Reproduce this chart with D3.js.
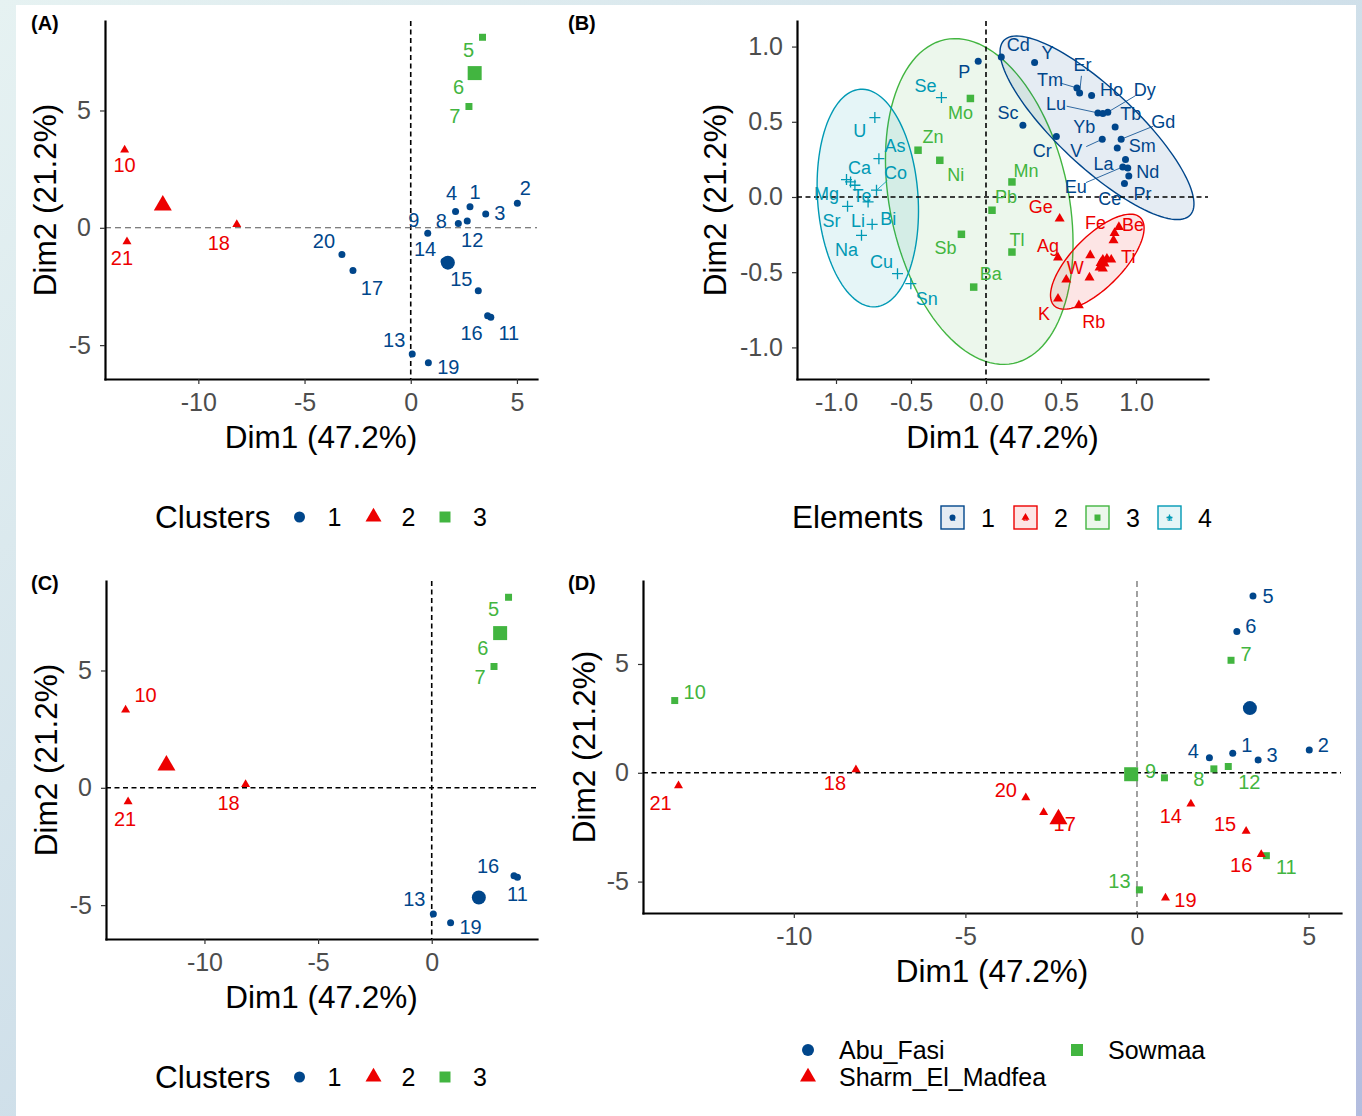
<!DOCTYPE html>
<html>
<head>
<meta charset="utf-8">
<script src="https://cdn.jsdelivr.net/npm/d3@7"></script>
<style>
  body { margin: 0; background: #fff; }
  svg { display: block; }
  text { font-family: "Liberation Sans", Arial, Helvetica, sans-serif; }
</style>
</head>
<body>
<svg id="fig" width="1362" height="1116"></svg>
<script>
// ---- Sample scores on the first two principal components ----
const sampleIds = [1, 2, 3, 4, 5, 6, 7, 8, 9, 10, 11, 12, 13, 14, 15, 16, 17, 18, 19, 20, 21];
const dim1 = [2.79, 5.02, 3.53, 2.11, 3.38, 2.91, 2.74, 2.24, 0.80, -13.47, 3.77, 2.66, 0.07, 1.57, 3.18, 3.62, -2.72, -8.19, 0.83, -3.24, -13.36];
const dim2 = [0.90, 1.05, 0.59, 0.69, 8.12, 6.49, 5.17, 0.18, -0.23, 3.32, -3.81, 0.29, -5.38, -1.43, -2.68, -3.75, -1.82, 0.14, -5.75, -1.14, -0.59];
// k-means cluster of each sample
const sampleCluster = [1, 1, 1, 1, 3, 3, 3, 1, 1, 2, 1, 1, 1, 1, 1, 1, 1, 2, 1, 1, 2];
// sampling site of each sample
const sampleSite = ["Abu_Fasi", "Abu_Fasi", "Abu_Fasi", "Abu_Fasi", "Abu_Fasi", "Abu_Fasi",
  "Sowmaa", "Sowmaa", "Sowmaa", "Sowmaa", "Sowmaa", "Sowmaa", "Sowmaa",
  "Sharm_El_Madfea", "Sharm_El_Madfea", "Sharm_El_Madfea", "Sharm_El_Madfea",
  "Sharm_El_Madfea", "Sharm_El_Madfea", "Sharm_El_Madfea", "Sharm_El_Madfea"];
// samples kept in the reduced clustering
const subsetIds = [5, 6, 7, 10, 11, 13, 16, 18, 19, 21];
const clusterLevels = [1, 2, 3];
const siteLevels = ["Abu_Fasi", "Sharm_El_Madfea", "Sowmaa"];

// ---- Variable coordinates (correlation circle) ----
const elementNames = [
  "P", "Cd", "Y", "Tm", "Er", "Ho", "Lu", "Tb", "Dy", "Sc", "Yb", "Cr", "V", "Gd", "Sm", "La", "Eu", "Ce", "Nd", "Pr",
  "Ge", "Be", "Fe", null, "Ag", null, "Ti", null, null, null, null, null, null, "W", null, "K", "Rb",
  "Mo", "Zn", "Ni", "Mn", "Pb", "Sb", "Tl", "Ba",
  "Se", "U", "As", "Co", "Mg", "Ca", "Te", "Li", "Sr", "Bi", "Na", "Cu", "Sn"];
const elemDim1 = [
  -0.052, 0.102, 0.324, 0.606, 0.624, 0.704, 0.746, 0.779, 0.812, 0.246, 0.861, 0.469, 0.775, 0.901, 0.875, 0.930, 0.912, 0.945, 0.952, 0.923,
  0.491, 0.886, 0.857, 0.850, 0.480, 0.695, 0.835, 0.806, 0.779, 0.764, 0.790, 0.757, 0.779, 0.535, 0.690, 0.480, 0.619,
  -0.104, -0.453, -0.308, 0.173, 0.040, -0.164, 0.173, -0.082,
  -0.297, -0.741, -0.714, -0.730, -0.930, -0.903, -0.874, -0.786, -0.923, -0.759, -0.830, -0.590, -0.501];
const elemDim2 = [
  0.903, 0.931, 0.894, 0.725, 0.692, 0.675, 0.559, 0.555, 0.564, 0.477, 0.466, 0.402, 0.384, 0.384, 0.326, 0.249, 0.200, 0.193, 0.140, 0.089,
  -0.144, -0.200, -0.240, -0.288, -0.403, -0.388, -0.417, -0.410, -0.417, -0.439, -0.443, -0.470, -0.476, -0.550, -0.536, -0.676, -0.720,
  0.655, 0.311, 0.244, 0.100, -0.088, -0.248, -0.366, -0.599,
  0.661, 0.528, 0.255, 0.045, 0.116, 0.100, 0.078, -0.033, -0.062, -0.182, -0.255, -0.510, -0.576];
const elemGroup = [
  1, 1, 1, 1, 1, 1, 1, 1, 1, 1, 1, 1, 1, 1, 1, 1, 1, 1, 1, 1,
  2, 2, 2, 2, 2, 2, 2, 2, 2, 2, 2, 2, 2, 2, 2, 2, 2,
  3, 3, 3, 3, 3, 3, 3, 3,
  4, 4, 4, 4, 4, 4, 4, 4, 4, 4, 4, 4, 4];
const elementLevels = [1, 2, 3, 4];

// 95% concentration ellipses of the element groups (centre, semi-axes, rotation in degrees)
const ellipseGroup = [3, 4, 1, 2];
const ellipseCx = [-0.045, -0.788, 0.74, 0.742];
const ellipseCy = [-0.03, -0.007, 0.46, -0.43];
const ellipseRa = [1.10, 0.725, 0.85, 0.41];
const ellipseRb = [0.595, 0.335, 0.26, 0.17];
const ellipseRot = [102, 94, -43, 45.5];

// ---- Layout and styles ----
const colors = { 1: "#00468B", 2: "#ED0000", 3: "#42B540", 4: "#0099B4" };
const siteColor = { "Abu_Fasi": colors[1], "Sharm_El_Madfea": colors[2], "Sowmaa": colors[3] };
const shapes = { 1: "circle", 2: "triangle", 3: "square", 4: "cross" };
const siteShape = { "Abu_Fasi": "circle", "Sharm_El_Madfea": "triangle", "Sowmaa": "square" };

// label placement (pixel offset of the label centre from its point)
const labelNudgeA = { 1: [5, -15], 2: [8, -15], 3: [14, -1], 4: [-4, -19], 5: [-14, 13], 6: [-14, 11], 7: [-14, 10],
  8: [-17, -3], 9: [-14, -13], 10: [0, 15], 11: [18, 16], 12: [5, 19], 13: [-18, -14], 14: [-19, -12],
  15: [-17, -12], 16: [-16, 17], 17: [19, 17], 18: [-18, 18], 19: [20, 4], 20: [-18, -14], 21: [-5, 16] };
const labelNudgeC = { 5: [-15, 12], 6: [-15, 12], 7: [-14, 11], 10: [20, -15], 11: [0, 17], 13: [-19, -15],
  16: [-26, -10], 18: [-17, 18], 19: [20, 4], 21: [-3, 17] };
const labelNudgeD = { 1: [14, -8], 2: [14, -5], 3: [14, -5], 4: [-16, -7], 5: [15, 0], 6: [14, -6], 7: [15, -6],
  8: [-15, 10], 9: [-14, -7], 10: [20, -9], 11: [20, 11], 12: [21, 16], 13: [-20, -9], 14: [-20, 12],
  15: [-21, -7], 16: [-20, 11], 17: [21, 12], 18: [-21, 13], 19: [20, 2], 20: [-20, -8], 21: [-18, 17] };
const labelNudgeB = {
  P: [-14, 11], Cd: [17, -12], Y: [13, -10], Er: [3, -28, 1], Tm: [-27, -8, 1], Ho: [20, -5], Dy: [37, -22, 1],
  Lu: [-42, -9, 1], Tb: [28, 0], Sc: [-15, -12], Yb: [-31, 0], Gd: [42, -17, 1], Cr: [-14, 14], V: [-26, 12, 1],
  Sm: [25, -2], La: [-22, 4], Nd: [19, -4], Eu: [-47, 20, 1], Ce: [-18, 31], Pr: [18, 10],
  Ge: [-19, -12], Fe: [-19, -10], Be: [14, -2], Ag: [-10, -12], Ti: [17, -3], W: [9, -12], K: [-14, 15], Rb: [15, 17],
  Mo: [-10, 15], Zn: [15, -13], Ni: [16, 15], Mn: [14, -11], Pb: [14, -13], Sb: [-16, 14], Tl: [5, -12], Ba: [17, -13],
  Se: [-16, -12], U: [-15, 13], As: [16, -13], Ca: [9, -14], Co: [19, -17, 1], Mg: [-20, 14], Te: [7, 11],
  Sr: [-16, 15], Li: [-10, 19], Bi: [16, -5], Na: [-15, 15], Cu: [-16, -12], Sn: [16, 15] };

const TITLE_SIZE = "31.5px";
const svg = d3.select("#fig");

// ---- page frame ----
const defs = svg.append("defs");
const grad = defs.append("linearGradient").attr("id", "frame")
  .attr("x1", "0%").attr("y1", "0%").attr("x2", "100%").attr("y2", "100%");
grad.append("stop").attr("offset", "0%").attr("stop-color", "#E6F2F2");
grad.append("stop").attr("offset", "60%").attr("stop-color", "#CBDCE8");
grad.append("stop").attr("offset", "100%").attr("stop-color", "#B3BDDF");
svg.append("rect").attr("width", 1362).attr("height", 1116).attr("fill", "url(#frame)");
svg.append("rect").attr("x", 16).attr("y", 5).attr("width", 1340).attr("height", 1111).attr("fill", "#fff");

// ---- helpers ----
// tick labels with a plain hyphen for negative numbers
const fmtInt = d => String(d3.format("d")(d)).replace("\u2212", "-");
const fmtOne = d => String(d3.format(".1f")(d)).replace("\u2212", "-");

function symbolPath(shape, s) {
  if (shape === "circle") return d3.symbol(d3.symbolCircle, Math.PI * (s / 2) * (s / 2))();
  if (shape === "triangle") return d3.symbol(d3.symbolTriangle, Math.sqrt(3) / 4 * s * s)();
  if (shape === "square") return d3.symbol(d3.symbolSquare, s * s)();
  const h = s / 2;
  return `M${-h},0H${h}M0,${-h}V${h}`;
}
function drawSymbol(g, shape, cx, cy, s, color) {
  const p = g.append("path").attr("d", symbolPath(shape, s))
    .attr("transform", `translate(${cx},${cy})`);
  if (shape === "cross") p.attr("fill", "none").attr("stroke", color).attr("stroke-width", 1.3);
  else p.attr("fill", color);
  return p;
}
function expand(vals) {
  const [lo, hi] = d3.extent(vals);
  const pad = (hi - lo) * 0.05;
  return [lo - pad, hi + pad];
}

function panelFrame(box, xDom, yDom, xTicks, yTicks, fmt, vDash, hDash, tag, titleGap) {
  const g = svg.append("g");
  const x = d3.scaleLinear().domain(xDom).range([box.left, box.right]);
  const y = d3.scaleLinear().domain(yDom).range([box.bottom, box.top]);
  const layers = { under: g.append("g"), dash: g.append("g"), marks: g.append("g"), labels: g.append("g"), top: g.append("g") };

  const dashStyle = (sel, kind) => {
    if (kind === "black") sel.attr("stroke", "#000").attr("stroke-width", 1.6).attr("stroke-dasharray", "5,3.5");
    else sel.attr("stroke", "#555").attr("stroke-width", 1.1).attr("stroke-dasharray", "6,4");
  };
  dashStyle(layers.dash.append("line").attr("x1", x(0)).attr("x2", x(0)).attr("y1", box.top).attr("y2", box.bottom), vDash);
  dashStyle(layers.dash.append("line").attr("x1", box.left).attr("x2", box.right).attr("y1", y(0)).attr("y2", y(0)), hDash);

  const ax = layers.top.append("g").attr("transform", `translate(0,${box.bottom})`)
    .call(d3.axisBottom(x).tickValues(xTicks).tickFormat(fmt).tickSize(5).tickSizeOuter(0).tickPadding(9));
  const ay = layers.top.append("g").attr("transform", `translate(${box.left},0)`)
    .call(d3.axisLeft(y).tickValues(yTicks).tickFormat(fmt).tickSize(5).tickSizeOuter(0).tickPadding(9));
  [ax, ay].forEach(a => {
    a.select(".domain").attr("stroke", "#000").attr("stroke-width", 2.2).attr("stroke-linecap", "square");
    a.selectAll(".tick line").attr("stroke", "#333").attr("stroke-width", 1.2);
    a.selectAll(".tick text").attr("fill", "#4D4D4D").style("font-size", "25px")
      .style("font-family", '"Liberation Sans", Arial, sans-serif');
  });

  layers.top.append("text").attr("x", (box.left + box.right) / 2).attr("y", box.bottom + 69)
    .attr("text-anchor", "middle").style("font-size", TITLE_SIZE).attr("fill", "#000").text("Dim1 (47.2%)");
  const ty = (box.top + box.bottom) / 2, tx = box.left - titleGap;
  layers.top.append("text").attr("transform", `translate(${tx},${ty}) rotate(-90)`)
    .attr("text-anchor", "middle").style("font-size", TITLE_SIZE).attr("fill", "#000").text("Dim2 (21.2%)");
  layers.top.append("text").attr("x", tag.x).attr("y", tag.y)
    .style("font-size", "20px").style("font-weight", "bold").attr("fill", "#000").text(tag.text);
  return { x, y, layers };
}

function sampleRows(ids) {
  return ids.map(id => {
    const i = sampleIds.indexOf(id);
    return { id, d1: dim1[i], d2: dim2[i], cluster: sampleCluster[i], site: sampleSite[i] };
  });
}

function clusterPanel(box, rows, nudge, tag, vDash, hDash, xTicks) {
  const { x, y, layers } = panelFrame(box, expand(rows.map(r => r.d1)), expand(rows.map(r => r.d2)),
    xTicks, [-5, 0, 5], fmtInt, vDash, hDash, tag, 49);
  rows.forEach(r => drawSymbol(layers.marks, shapes[r.cluster], x(r.d1), y(r.d2), r.cluster === 2 ? 9 : 7, colors[r.cluster]));
  rows.forEach(r => {
    const n = nudge[r.id];
    layers.labels.append("text").attr("x", x(r.d1) + n[0]).attr("y", y(r.d2) + n[1])
      .attr("text-anchor", "middle").attr("dominant-baseline", "central")
      .style("font-size", "20px").attr("fill", colors[r.cluster]).text(r.id);
  });
  clusterLevels.forEach(c => {
    const m = rows.filter(r => r.cluster === c);
    if (!m.length) return;
    drawSymbol(layers.labels, shapes[c], x(d3.mean(m, r => r.d1)), y(d3.mean(m, r => r.d2)), c === 2 ? 18 : 14, colors[c]);
  });
}

function clusterLegend(top) {
  const g = svg.append("g");
  g.append("text").attr("x", 155).attr("y", top + 11).style("font-size", TITLE_SIZE).attr("fill", "#000").text("Clusters");
  const keyX = [299.5, 373.5, 445];
  clusterLevels.forEach((c, k) => {
    drawSymbol(g, shapes[c], keyX[k], top, c === 2 ? 16 : 11, colors[c]);
    g.append("text").attr("x", keyX[k] + 35).attr("y", top + 9).attr("text-anchor", "middle")
      .style("font-size", "25px").attr("fill", "#000").text(c);
  });
}

// ---- (A) k-means clusters, all samples ----
const boxA = { left: 105, right: 537, top: 21, bottom: 379 };
clusterPanel(boxA, sampleRows(sampleIds), labelNudgeA, { x: 31, y: 30, text: "(A)" }, "black", "gray", [-10, -5, 0, 5]);
clusterLegend(517);

// ---- (C) k-means clusters, reduced set ----
const boxC = { left: 106, right: 537, top: 581, bottom: 939 };
clusterPanel(boxC, sampleRows(subsetIds), labelNudgeC, { x: 31, y: 590, text: "(C)" }, "black", "black", [-10, -5, 0]);
clusterLegend(1077);

// ---- (B) element groups on the correlation plane ----
(function () {
  const box = { left: 797, right: 1208, top: 21, bottom: 379 };
  const { x, y, layers } = panelFrame(box, [-1.26, 1.48], [-1.21, 1.17], [-1, -0.5, 0, 0.5, 1], [-1, -0.5, 0, 0.5, 1],
    fmtOne, "black", "black", { x: 568, y: 30, text: "(B)" }, 71);
  ellipseGroup.forEach((grp, k) => {
    const t = ellipseRot[k] * Math.PI / 180;
    const pts = d3.range(0, 361, 3).map(a => {
      const u = a * Math.PI / 180;
      const ex = ellipseRa[k] * Math.cos(u), ey = ellipseRb[k] * Math.sin(u);
      return [x(ellipseCx[k] + ex * Math.cos(t) - ey * Math.sin(t)), y(ellipseCy[k] + ex * Math.sin(t) + ey * Math.cos(t))];
    });
    layers.under.append("path").attr("d", d3.line()(pts) + "Z")
      .attr("fill", colors[grp]).attr("fill-opacity", 0.1)
      .attr("stroke", colors[grp]).attr("stroke-width", 1.4);
  });
  elementNames.forEach((name, i) => {
    const g = elemGroup[i];
    const px = x(elemDim1[i]), py = y(elemDim2[i]);
    const s = g === 1 ? 7 : g === 2 ? 10 : g === 3 ? 7.5 : 11;
    drawSymbol(layers.marks, shapes[g], px, py, s, colors[g]);
    if (!name) return;
    const n = labelNudgeB[name];
    if (n[2]) {
      const len = Math.hypot(n[0], n[1]);
      const cut = Math.max(0, len - 11);
      layers.marks.append("line").attr("x1", px).attr("y1", py)
        .attr("x2", px + n[0] * cut / len).attr("y2", py + n[1] * cut / len)
        .attr("stroke", colors[g]).attr("stroke-width", 0.8);
    }
    layers.labels.append("text").attr("x", px + n[0]).attr("y", py + n[1])
      .attr("text-anchor", "middle").attr("dominant-baseline", "central")
      .style("font-size", "18px").attr("fill", colors[g]).text(name);
  });

  // legend
  const lg = svg.append("g");
  lg.append("text").attr("x", 792).attr("y", 528).style("font-size", TITLE_SIZE).attr("fill", "#000").text("Elements");
  const boxX = [941, 1014, 1086, 1158];
  elementLevels.forEach((grp, k) => {
    lg.append("rect").attr("x", boxX[k]).attr("y", 506).attr("width", 23).attr("height", 23)
      .attr("fill", colors[grp]).attr("fill-opacity", 0.1).attr("stroke", colors[grp]).attr("stroke-width", 1.4);
    drawSymbol(lg, shapes[grp], boxX[k] + 11.5, 517.5, grp === 2 ? 8 : 6, colors[grp]);
    lg.append("text").attr("x", boxX[k] + 11.5).attr("y", 521).attr("text-anchor", "middle")
      .style("font-size", "9px").attr("fill", colors[grp]).text("a");
    lg.append("text").attr("x", boxX[k] + 47).attr("y", 527).attr("text-anchor", "middle")
      .style("font-size", "25px").attr("fill", "#000").text(grp);
  });
})();

// ---- (D) samples by site ----
(function () {
  const box = { left: 643, right: 1341, top: 581, bottom: 913 };
  const rows = sampleRows(sampleIds);
  const { x, y, layers } = panelFrame(box, expand(dim1), expand(dim2), [-10, -5, 0, 5], [-5, 0, 5],
    fmtInt, "gray", "black", { x: 568, y: 590, text: "(D)" }, 48);
  rows.forEach(r => drawSymbol(layers.marks, siteShape[r.site], x(r.d1), y(r.d2), r.site === "Sharm_El_Madfea" ? 9 : 7, siteColor[r.site]));
  rows.forEach(r => {
    const n = labelNudgeD[r.id];
    layers.labels.append("text").attr("x", x(r.d1) + n[0]).attr("y", y(r.d2) + n[1])
      .attr("text-anchor", "middle").attr("dominant-baseline", "central")
      .style("font-size", "20px").attr("fill", siteColor[r.site]).text(r.id);
  });
  siteLevels.forEach(s => {
    const m = rows.filter(r => r.site === s);
    drawSymbol(layers.labels, siteShape[s], x(d3.mean(m, r => r.d1)), y(d3.mean(m, r => r.d2)),
      s === "Sharm_El_Madfea" ? 18 : 14, siteColor[s]);
  });

  const lg = svg.append("g");
  const keys = [[808, 1050], [808, 1077], [1077, 1050]];
  siteLevels.forEach((s, k) => {
    drawSymbol(lg, siteShape[s], keys[k][0], keys[k][1], s === "Sharm_El_Madfea" ? 16 : 12, siteColor[s]);
    lg.append("text").attr("x", keys[k][0] + 31).attr("y", keys[k][1] + 9)
      .style("font-size", "25px").attr("fill", "#000").text(s);
  });
})();
</script>
</body>
</html>
